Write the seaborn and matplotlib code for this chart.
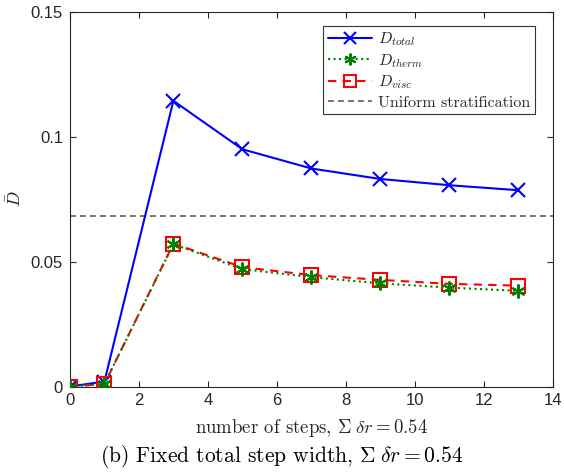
import matplotlib
matplotlib.use("Agg")
import matplotlib.pyplot as plt
import seaborn as sns
import pandas as pd
import numpy as np

steps = [0, 1, 3, 5, 7, 9, 11, 13]
d_total = [0.0, 0.002, 0.1144, 0.0950, 0.0873, 0.0831, 0.0806, 0.0786]
d_therm = [0.0, 0.001, 0.0570, 0.0470, 0.0438, 0.0413, 0.0396, 0.0383]
d_visc = [0.0, 0.001, 0.0572, 0.0478, 0.0446, 0.0427, 0.0411, 0.0404]
uniform = 0.0683
x_ticks = [0, 2, 4, 6, 8, 10, 12, 14]
y_ticks = [0, 0.05, 0.1, 0.15]
y_ticklabels = ["0", "0.05", "0.1", "0.15"]

sns.set_theme(style="white")
plt.rcParams["font.family"] = ["Liberation Sans", "DejaVu Sans"]
plt.rcParams["mathtext.fontset"] = "cm"

df = pd.DataFrame({"steps": steps, "total": d_total, "therm": d_therm, "visc": d_visc})

fig = plt.figure(figsize=(5.64, 4.76), dpi=100)
ax = fig.add_axes([0.124, 0.188, 0.856, 0.787])

ax.axhline(uniform, color="#5a5a5a", ls=(0, (3.5, 2.5)), lw=1.2, label="Uniform stratification", zorder=1)
sns.lineplot(data=df, x="steps", y="total", ax=ax, color="#0000ff", lw=1.5, marker="x",
             markersize=10, markeredgewidth=1.5, markeredgecolor="#0000ff",
             label=r"$D_{total}$", zorder=3)
sns.lineplot(data=df, x="steps", y="therm", ax=ax, color="#008000", lw=1.5, ls=":", marker=(6, 2, 0),
             markersize=10, markeredgewidth=1.5, markeredgecolor="#008000",
             label=r"$D_{therm}$", zorder=5)
sns.lineplot(data=df, x="steps", y="visc", ax=ax, color="#ff0000", lw=1.5, ls=(0, (4, 3)), marker="s",
             markersize=10, markeredgewidth=1.5, markerfacecolor="none", markeredgecolor="#ff0000",
             label=r"$D_{visc}$", zorder=4)

h, l = ax.get_legend_handles_labels()
order = [1, 2, 3, 0]
leg = ax.legend([h[i] for i in order], [l[i] for i in order], loc="upper right",
                bbox_to_anchor=(0.98, 0.985), fancybox=False, framealpha=1, edgecolor="#333333",
                handlelength=2.8, handletextpad=0.35, borderpad=0.3, labelspacing=0.25,
                markerscale=0.85, prop={"family": "cmr10", "size": 11.5})
leg.get_frame().set_linewidth(0.8)

ax.set_xlim(0, 14)
ax.set_ylim(0, 0.15)
ax.set_xticks(x_ticks)
ax.set_yticks(y_ticks)
ax.set_yticklabels(y_ticklabels)
ax.tick_params(direction="in", length=4, width=0.8, labelsize=12, colors="#262626",
               top=True, right=True, bottom=True, left=True, pad=5)
for s in ax.spines.values():
    s.set_color("#262626")
    s.set_linewidth(0.8)

ax.set_xlabel(r"number of steps, $\Sigma\;\delta r = 0.54$", fontsize=13.5, family="cmr10",
              color="#262626", labelpad=6)
ax.set_ylabel(r"$\bar{D}$", fontsize=13, color="#262626", labelpad=4)

fig.text(0.5, 0.012, r"(b) Fixed total step width, $\Sigma\;\delta r = 0.54$", ha="center", va="bottom",
         fontsize=15.5, family="cmr10", color="black")

fig.savefig("out.png", dpi=100)
